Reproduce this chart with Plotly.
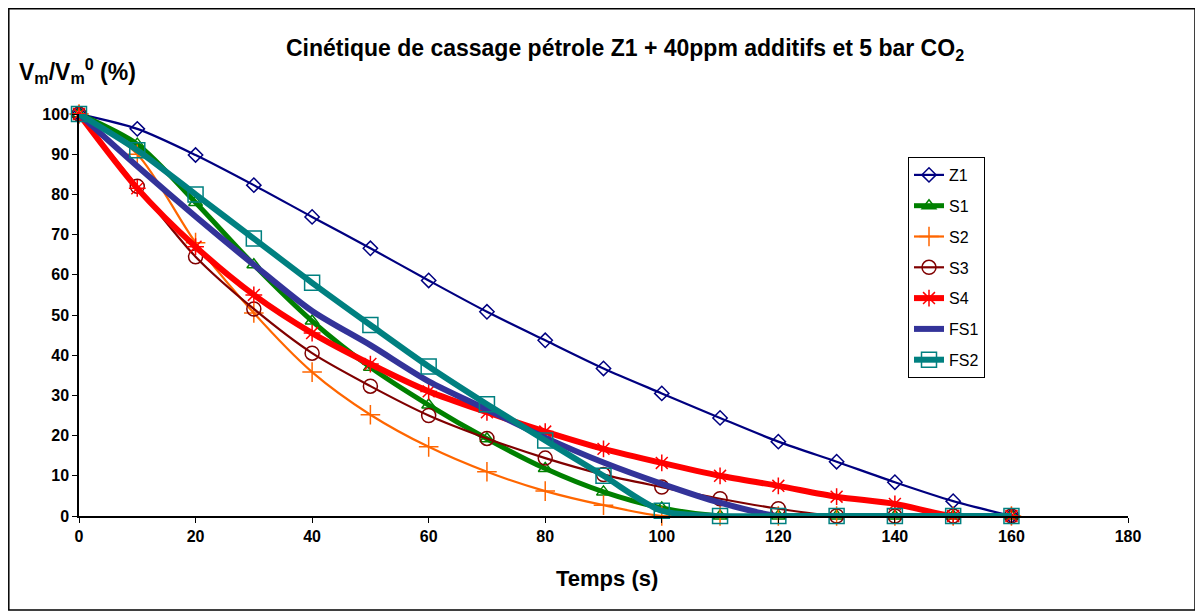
import plotly.graph_objects as go

# ---- data ----
temps = [0, 10, 20, 30, 40, 50, 60, 70, 80, 90, 100, 110, 120, 130, 140, 150, 160]
Z1 = [100, 96.3, 89.8, 82.3, 74.4, 66.6, 58.6, 50.8, 43.7, 36.7, 30.5, 24.4, 18.5, 13.5, 8.4, 3.7, 0]
S1 = [100, 92.5, 78, 62.5, 48.5, 37, 27.6, 19.2, 11.8, 6, 2, 0, 0, 0, 0, 0, 0]
S2 = [100, 90, 68, 50.5, 35.8, 25.2, 17.2, 11, 6.2, 2.7, 0, 0, 0, 0, 0, 0, 0]
S3 = [100, 82, 64.5, 51.5, 40.5, 32.3, 25, 19.3, 14.4, 10.3, 7.2, 4.3, 1.8, 0, 0, 0, 0]
S4 = [100, 81.5, 67, 55, 45.5, 37.8, 31, 25.8, 21, 16.7, 13.2, 10, 7.5, 4.8, 3, 0, 0]
FS1 = [100, 87, 74.5, 62.5, 51, 42.5, 33.5, 26.5, 19.5, 13.3, 8, 3.3, 0, 0, 0, 0, 0]
FS2 = [100, 91, 80, 69, 58, 47.5, 37.2, 27.8, 18.8, 10, 1.3, 0, 0, 0, 0, 0, 0]

x_ticks = [0, 20, 40, 60, 80, 100, 120, 140, 160, 180]
y_ticks = [0, 10, 20, 30, 40, 50, 60, 70, 80, 90, 100]

series = [
    ("Z1", Z1, "#000080", 2.2, "diamond-open", 11),
    ("S1", S1, "#008000", 5, "triangle-up-open", 12),
    ("S2", S2, "#FF6600", 2.2, "cross-thin-open", 14),
    ("S3", S3, "#800000", 2.2, "circle-open", 14),
    ("S4", S4, "#FF0000", 6, "asterisk-open", 14),
    ("FS1", FS1, "#333399", 6, None, 0),
    ("FS2", FS2, "#008080", 6, "square-open", 15),
]

FONT = "Arial, Liberation Sans, sans-serif"

# plot area in page pixels (reference): x 79..1128, y 114..516 ; page has 8px body offset
PX0, PX1, PY0, PY1 = 79, 1128, 114, 516
PW, PH = PX1 - PX0, PY1 - PY0


def px(x):
    return (x - PX0) / PW


def py(y):
    return (PY1 - y) / PH


fig = go.Figure()
for name, vals, col, lw, sym, ms in series:
    if sym:
        mode = "lines+markers"
        marker = dict(symbol=sym, size=ms, color=col, line=dict(color=col, width=1.5))
    else:
        mode = "lines"
        marker = None
    fig.add_trace(go.Scatter(
        x=temps, y=vals, name=name, mode=mode,
        line=dict(color=col, width=lw, shape="spline", smoothing=0.8),
        marker=marker, cliponaxis=False,
        legendgroup=name,
    ))

fig.update_layout(
    width=1203, height=612,
    margin=dict(l=PX0 - 8, r=1203 - (PX0 - 8) - PW, t=PY0 - 8, b=612 - (PY0 - 8) - PH),
    paper_bgcolor="white", plot_bgcolor="white",
    font=dict(family=FONT, color="black"),
    showlegend=True,
    legend=dict(
        x=px(908), y=py(157), xanchor="left", yanchor="top",
        bordercolor="black", borderwidth=1, bgcolor="white",
        font=dict(family=FONT, size=16, color="black"),
        tracegroupgap=7, traceorder="grouped",
    ),
    xaxis=dict(
        range=[0, 180], tickvals=x_ticks, showgrid=False, zeroline=False,
        showline=True, linecolor="black", linewidth=1.5,
        ticks="outside", ticklen=5, tickcolor="black",
        tickfont=dict(family=FONT, size=16, weight="bold"),
    ),
    yaxis=dict(
        range=[0, 100], tickvals=y_ticks, showgrid=False, zeroline=False,
        showline=True, linecolor="black", linewidth=1.5,
        ticks="outside", ticklen=5, tickcolor="black",
        tickfont=dict(family=FONT, size=16, weight="bold"),
    ),
    annotations=[
        dict(text="Cinétique de cassage pétrole Z1 + 40ppm additifs et 5 bar CO<sub>2</sub>",
             xref="paper", yref="paper", x=px(625), y=py(49),
             xanchor="center", yanchor="middle", showarrow=False,
             font=dict(family=FONT, size=23, weight="bold")),
        dict(text="V<sub>m</sub>/V<sub>m</sub><sup>0</sup> (%)",
             xref="paper", yref="paper", x=px(17), y=py(71),
             xanchor="left", yanchor="middle", showarrow=False,
             font=dict(family=FONT, size=23, weight="bold")),
        dict(text="Temps (s)",
             xref="paper", yref="paper", x=px(607), y=py(578),
             xanchor="center", yanchor="middle", showarrow=False,
             font=dict(family=FONT, size=22, weight="bold")),
    ],
    shapes=[
        dict(type="rect", xref="paper", yref="paper",
             x0=px(8.8), x1=px(1195), y0=py(610), y1=py(8.8),
             line=dict(color="black", width=1.5), fillcolor="rgba(0,0,0,0)", layer="below"),
    ],
)

fig.write_html("out.html")
